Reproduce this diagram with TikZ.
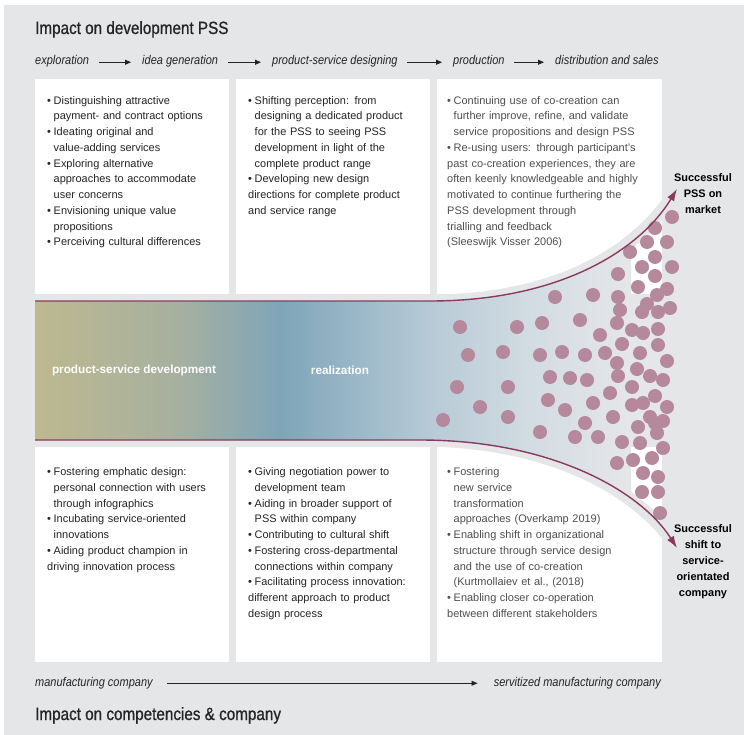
\documentclass[tikz,border=0pt]{standalone}
\usepackage{fontspec}
\setmainfont{Liberation Sans}
\newfontfamily\condfont[FakeStretch=0.87]{Liberation Sans}
\newfontfamily\headfont[FakeStretch=0.86,FakeBold=0.8]{Liberation Sans}
\usetikzlibrary{arrows.meta,positioning}
\definecolor{bggray}{RGB}{229,230,232}
\definecolor{funnelline}{RGB}{138,58,96}
\definecolor{dotcolor}{RGB}{181,136,156}
\definecolor{textdark}{RGB}{36,36,36}
\definecolor{textgray}{RGB}{78,78,78}
\definecolor{olivetone}{RGB}{189,185,143}
\definecolor{sagetone}{RGB}{166,176,160}
\definecolor{bluetone}{RGB}{126,165,185}
\definecolor{palebluetone}{RGB}{183,202,214}
\definecolor{mistytone}{RGB}{210,220,227}
\newcommand{\bitem}[1]{\par\hangindent=6.5bp\hangafter=1\noindent\makebox[6.5bp][l]{\textbullet}#1}
\begin{document}
\begin{tikzpicture}
[x=1bp,y=-1bp,
  boxdecorate/.style={shape=rectangle,fill=white,inner sep=0pt,anchor=north west},%
  textdecorate/.style={anchor=base west,inner sep=0pt,text width=225bp,align=left,
    font=\fontsize{11}{15.8}\selectfont,text=textdark},%
  stepdecorate/.style={anchor=base west,inner sep=0pt,text height=8bp,text depth=2.5bp,
    font=\condfont\itshape\fontsize{12.7}{14}\selectfont,text=textdark},%
  titledecorate/.style={anchor=base west,inner sep=0pt,
    font=\headfont\fontsize{17.8}{20}\selectfont,text=textdark},%
  arrowdecorate/.style={-{Triangle[length=6bp,width=5bp]},line width=0.8bp,draw=textdark},%
  phasedecorate/.style={text=white,font=\bfseries\fontsize{11.8}{14}\selectfont},%
  outcomedecorate/.style={align=center,font=\bfseries\fontsize{11}{16}\selectfont,text=black},%
  funneldecorate/.style={-{Latex[length=12bp,width=8bp]},line width=1.4bp,draw=funnelline},%
  gapdecorate/.style={draw=bggray,line width=13bp},%
  dotdecorate/.style={fill=dotcolor}]
%% background
\useasboundingbox (0,0) rectangle (744,735);
\fill[bggray] (4,5) rectangle (744,735);
%% boxes
\foreach \nodename/\x/\y/\w/\h in {tl/35/79/194/215, tm/236/79/194/215, tr/437/79/225/215,
  bl/35/447/194/215, bm/236/447/194/215, br/437/447/225/215} {
  \node[boxdecorate,minimum width=\w bp,minimum height=\h bp] (\nodename) at (\x,\y) {};
}
%% funnel ends
\coordinate (topstart) at (35,301);
\coordinate (topturn) at (430,301);
\coordinate (toptip) at (677,189);
\coordinate (botstart) at (35,440);
\coordinate (botturn) at (420,440);
\coordinate (bottip) at (677,548);
\draw[gapdecorate] (topstart) -- (topturn) .. controls (560,301) and (640,250) .. (toptip);
\draw[gapdecorate] (botstart) -- (botturn) .. controls (550,440) and (640,490) .. (bottip);
\begin{scope}
\clip (topstart) -- (topturn) .. controls (560,301) and (640,250) .. (toptip) -- (700,189)
  -- (700,548) -- (bottip) .. controls (640,490) and (550,440) .. (botturn) -- (botstart) -- cycle;
\foreach \xa/\xb/\ca/\cb in {35/180/olivetone/sagetone, 180/280/sagetone/bluetone,
  280/430/bluetone/palebluetone, 430/530/palebluetone/mistytone, 530/630/mistytone/bggray} {
  \shade[left color=\ca,right color=\cb] (\xa,180) rectangle (\xb+1,560);
}
\end{scope}
%% dots
\foreach \x/\y in {672/217, 655/228, 647/242, 667/242, 630/252, 655/257, 642/267, 672/267,
  618/274, 655/276, 638/287, 667/289, 593/295, 555/297, 618/297, 657/295, 647/304, 670/308,
  620/310, 642/312, 658/312, 460/327, 517/327, 542/323, 580/320, 617/323, 632/330, 643/333,
  658/329, 600/335, 468/355, 503/352, 540/355, 562/352, 585/355, 605/353, 622/344, 640/353,
  658/345, 667/361, 617/363, 618/376, 637/369, 650/376, 663/380, 550/377, 570/378, 587/380,
  457/387, 508/387, 632/387, 610/393, 655/396, 548/400, 593/403, 632/405, 643/403, 667/407,
  480/407, 565/410, 613/417, 650/417, 663/421, 443/420, 508/417, 585/423, 638/427, 655/423,
  540/432, 575/437, 598/437, 622/442, 657/433, 640/443, 663/448, 617/463, 633/460, 652/458,
  643/473, 658/477, 642/492, 658/492, 660/513} {
  \fill[dotdecorate] (\x,\y) circle (7bp);
}
%% funnel lines
\draw[funneldecorate] (topstart) -- (topturn) .. controls (560,301) and (640,250) .. (toptip);
\draw[funneldecorate] (botstart) -- (botturn) .. controls (550,440) and (640,490) .. (bottip);
\node[phasedecorate] (devlabel) at (134,370) {product-service development};
\node[phasedecorate] (reallabel) at (340,370) {realization};
\node[outcomedecorate] (pssmarket) at (703,194) {Successful\\PSS on\\market};
\node[outcomedecorate] (shiftlabel) at (703,562) {Successful\\shift to\\service-\\orientated\\company};
%% titles and steps
\node[titledecorate] (devtitle) at (35,34) {Impact on development PSS};
\node[titledecorate] (comptitle) at (35,720) {Impact on competencies \& company};
\foreach \nodename/\x/\steptext in {expl/35/exploration, idea/142/idea generation,
  design/272/product-service designing, produ/453/production, distr/555/distribution and sales} {
  \node[stepdecorate] (\nodename) at (\x,65) {\steptext};
}
\path
\foreach \startnode/\endnode in {expl/idea, idea/design, design/produ, produ/distr} {
  (\startnode) edge[arrowdecorate,shorten <=9.5bp,shorten >=11bp] (\endnode)
};
\node[stepdecorate] (mfg) at (35,686) {manufacturing company};
\node[stepdecorate,anchor=base east] (smfg) at (661,686) {servitized manufacturing company};
\draw[arrowdecorate,shorten <=14bp,shorten >=16bp] (mfg) -- (smfg);
%% box texts
\node[textdecorate] (tltext) at ([xshift=12bp,yshift=-9.5bp]tl.north west) {%
  \bitem{Distinguishing attractive\newline payment- and contract options}
  \bitem{Ideating original and\newline value-adding services}
  \bitem{Exploring alternative\newline approaches to accommodate\newline user concerns}
  \bitem{Envisioning unique value\newline propositions}
  \bitem{Perceiving cultural differences}};
\node[textdecorate] (tmtext) at ([xshift=12bp,yshift=-9.5bp]tm.north west) {%
  \bitem{Shifting perception: from\newline designing a dedicated product\newline
    for the PSS to seeing PSS\newline development in light of the\newline complete product range}
  \bitem{Developing new design\newline directions for complete product\newline and service range}};
\node[textdecorate,text=textgray] (trtext) at ([xshift=10bp,yshift=-9.5bp]tr.north west) {%
  \bitem{Continuing use of co-creation can\newline further improve, refine, and validate\newline
    service propositions and design PSS}
  \bitem{Re-using users: through participant’s\newline past co-creation experiences, they are\newline
    often keenly knowledgeable and highly\newline motivated to continue furthering the\newline
    PSS development through\newline trialling and feedback\newline (Sleeswijk Visser 2006)}};
\node[textdecorate] (bltext) at ([xshift=12bp,yshift=-13bp]bl.north west) {%
  \bitem{Fostering emphatic design:\newline personal connection with users\newline through infographics}
  \bitem{Incubating service-oriented\newline innovations}
  \bitem{Aiding product champion in\newline driving innovation process}};
\node[textdecorate] (bmtext) at ([xshift=12bp,yshift=-13bp]bm.north west) {%
  \bitem{Giving negotiation power to\newline development team}
  \bitem{Aiding in broader support of\newline PSS within company}
  \bitem{Contributing to cultural shift}
  \bitem{Fostering cross-departmental\newline connections within company}
  \bitem{Facilitating process innovation:\newline different approach to product\newline design process}};
\node[textdecorate,text=textgray] (brtext) at ([xshift=10bp,yshift=-13bp]br.north west) {%
  \bitem{Fostering\newline new service\newline transformation\newline approaches (Overkamp 2019)}
  \bitem{Enabling shift in organizational\newline structure through service design\newline
    and the use of co-creation\newline (Kurtmollaiev et al., (2018)}
  \bitem{Enabling closer co-operation\newline between different stakeholders}};
\end{tikzpicture}
\end{document}
